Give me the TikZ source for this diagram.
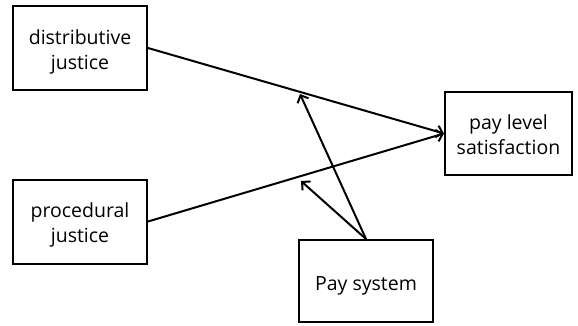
\documentclass[tikz,border=0pt]{standalone}
\usepackage{fontspec}
\setmainfont{Open Sans}
\usetikzlibrary{arrows.meta}
\begin{document}
\begin{tikzpicture}[x=1pt,y=-1pt,
  box/.style={draw,line width=2pt,minimum width=134pt,minimum height=84pt,align=center,font=\fontsize{19.5}{25}\selectfont,inner sep=0pt},
  twoline/.style={text height=47pt,text depth=5pt},
  oneline/.style={text height=24pt},
  link/.style={line width=2pt,-{Straight Barb[length=6pt,width=12pt,line width=2pt]}}]
\useasboundingbox (0,0) rectangle (578,325);
\node[box,twoline] (dj) at (80,48) {distributive\\justice};
\node[box,twoline] (pj) at (80,221.5) {procedural\\justice};
\node[box,twoline,minimum width=127pt,minimum height=83pt] (ps) at (508.5,133.5) {pay level\\satisfaction};
\node[box,oneline,minimum height=82pt] (sy) at (366,281) {Pay system};
\coordinate (t1) at (300,94);
\coordinate (t2) at (301,181);
\draw[link] (dj.east) -- (ps.west);
\draw[link] (pj.east) -- (ps.west);
\draw[link] (sy.north) -- (t1);
\draw[link] (sy.north) -- (t2);
\end{tikzpicture}
\end{document}
